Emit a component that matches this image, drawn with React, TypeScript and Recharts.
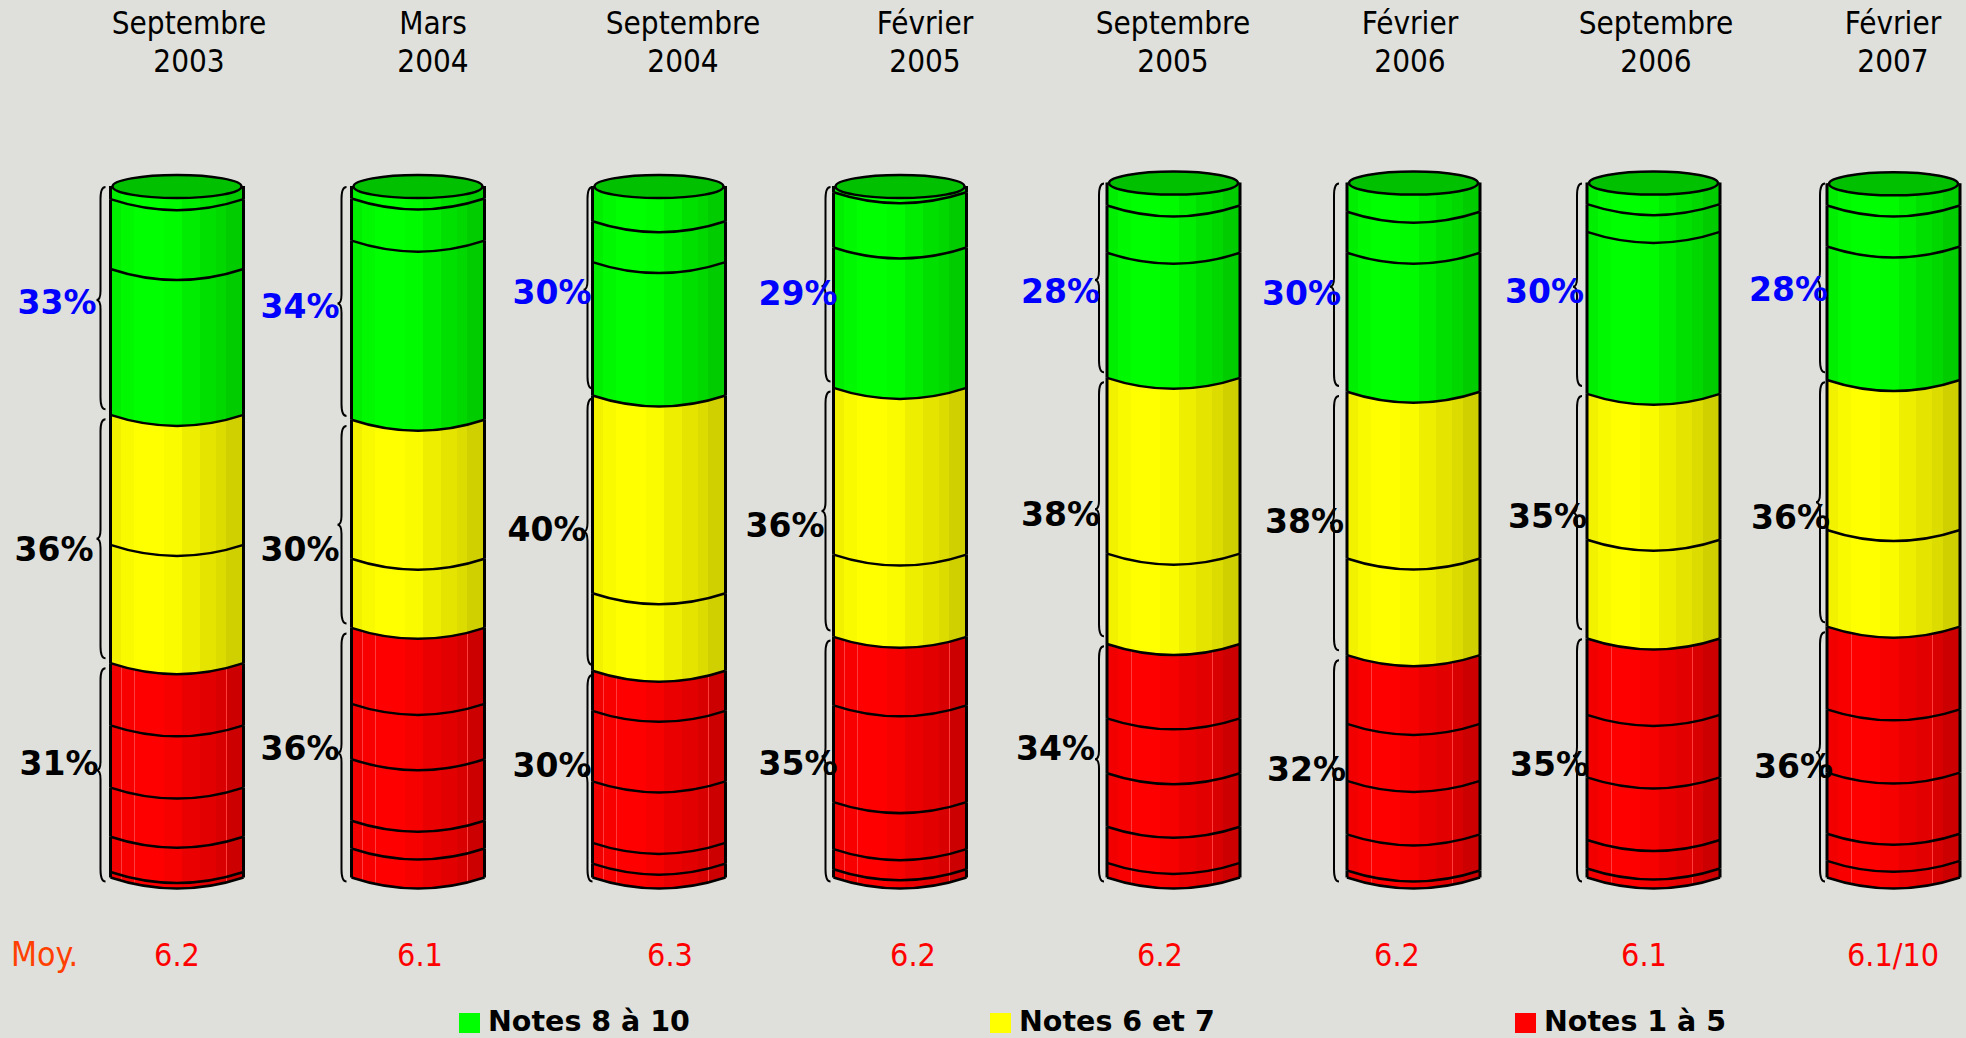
import { Bar, BarChart, XAxis, YAxis } from 'recharts';

const months = ['Septembre', 'Mars', 'Septembre', 'Février', 'Septembre', 'Février', 'Septembre', 'Février'];
const years = ['2003', '2004', '2004', '2005', '2005', '2006', '2006', '2007'];
const moyennes = ['6.2', '6.1', '6.3', '6.2', '6.2', '6.2', '6.1', '6.1/10'];

// share of answers per note
const note10 = [1.9, 1.8, 5.1, 0.9, 3.3, 4.2, 3.1, 3.2];
const note9 = [10.1, 6.1, 5.9, 8, 6.8, 5.9, 4, 5.9];
const note8 = [21.1, 25.9, 19.3, 20.3, 18, 20, 23.3, 19.2];
const note7 = [18.8, 20.1, 28.6, 24.1, 25.3, 24, 21, 21.6];
const note6 = [17.1, 10, 11.2, 11.9, 13, 13.9, 14.2, 13.9];
const note5 = [9, 11, 5.8, 9.9, 10.7, 9.9, 11, 11.9];
const note4 = [9, 8, 10.2, 14, 7.9, 8.2, 9, 9.1];
const note3 = [7.1, 8.9, 8.9, 6.8, 7.7, 7.7, 9, 8.8];
const note2 = [5.1, 4, 3, 2.9, 5.2, 5.2, 4.1, 3.9];
const note1 = [0.8, 4.2, 2, 1.2, 2.1, 1, 1.3, 2.4];

// printed group totals
const groupHaut = [33, 34, 30, 29, 28, 30, 30, 28];
const groupMilieu = [36, 30, 40, 36, 38, 38, 35, 36];
const groupBas = [31, 36, 30, 35, 34, 32, 35, 36];

const legendItems = [
  { label: 'Notes 8 à 10', color: '#00ff00' },
  { label: 'Notes 6 et 7', color: '#ffff00' },
  { label: 'Notes 1 à 5', color: '#ff0000' },
];

// the labels were placed by hand in the original, so each one has its own nudge
const dateNudge = [12, 15, 24, 25, 0, -3, 3, 0];
const moyNudge = [0, 2, 11, 13, -13, -16, -9, 0];
const braceGap = [10, 10, 5, 8, 8, 13, 10, 7];
const hautNudge = [[-14, 1.5], [-12, 2], [-1, 2], [4, 6.5], [-7, 11], [-6, 6.5], [-3, 4], [1, 9]];
const milieuNudge = [[-17, 10], [-12, 24.5], [-6, -2.5], [-9, 14], [-7, 5], [-3, -2], [0, 3], [3, 15]];
const basNudge = [[-12, -7], [-12, -5.5], [-1, -9], [4, 7], [-12, -11], [-1, 3], [2, 8], [6, 14]];

const allRows = months.map((m, i) => ({
  date: `${m} ${years[i]}`,
  moy: moyennes[i],
  n1: note1[i], n2: note2[i], n3: note3[i], n4: note4[i], n5: note5[i],
  n6: note6[i], n7: note7[i], n8: note8[i], n9: note9[i], n10: note10[i],
  bas: groupBas[i], milieu: groupMilieu[i], haut: groupHaut[i],
}));

const BAR_WIDTH = 133;
const CURVE = 11;
const BG = '#dfe0db';
const CONDENSED = '"DejaVu Sans Condensed", "DejaVu Sans", sans-serif';
const BOLD = '"DejaVu Sans", sans-serif';

// facets of the cylinder, left to right
const facets = [0, 0.08, 0.18, 0.4, 0.54, 0.67, 0.79, 0.87, 1];
const facetColors = {
  vert: ['#00ee00', '#00f800', '#00ff00', '#00fa00', '#00ec00', '#00e000', '#00d800', '#00cc00'],
  jaune: ['#f2f200', '#f9f900', '#ffff00', '#fbfb00', '#eeee00', '#e4e400', '#dcdc00', '#d0d000'],
  rouge: ['#f20000', '#f90000', '#ff0000', '#f60000', '#ea0000', '#e20000', '#d80000', '#cc0000'],
};

function Facets({ id, colors, streak }: { id: string; colors: string[]; streak?: string }) {
  const stops: any[] = [];
  colors.forEach((c, i) => {
    stops.push(<stop key={`${i}a`} offset={facets[i]} stopColor={c} />);
    stops.push(<stop key={`${i}b`} offset={facets[i + 1]} stopColor={c} />);
    // the red parts of the original show thin pale lines on some facet edges
    if (streak && [0, 1, 5, 6].includes(i)) {
      stops.push(<stop key={`${i}c`} offset={facets[i + 1]} stopColor={streak} />);
      stops.push(<stop key={`${i}d`} offset={facets[i + 1] + 0.005} stopColor={streak} />);
    }
  });
  return <linearGradient id={id} x1="0" y1="0" x2="1" y2="0">{stops}</linearGradient>;
}

function segment(fillId: string, isTop = false) {
  return (props: any) => {
    const { x, y, width: w, height: h } = props;
    const bottom = y + h;
    return (
      <g>
        <path
          d={`M${x},${y} L${x},${bottom} Q${x + w / 2},${bottom + 2 * CURVE} ${x + w},${bottom} L${x + w},${y} Z`}
          fill={`url(#${fillId})`}
        />
        <path
          d={`M${x},${bottom} Q${x + w / 2},${bottom + 2 * CURVE} ${x + w},${bottom}`}
          fill="none"
          stroke="#000"
          strokeWidth={2.5}
        />
        <path d={`M${x},${y} L${x},${bottom} M${x + w},${y} L${x + w},${bottom}`} stroke="#000" strokeWidth={3} />
        {isTop && (
          <path
            d={`M${x + 2},${y + 0.5} A${w / 2 - 2},11.5 0 0 1 ${x + w - 2},${y + 0.5} A${w / 2 - 2},11.5 0 0 1 ${x + 2},${y + 0.5} Z`}
            fill="#00c000"
            stroke="#000"
            strokeWidth={2.5}
          />
        )}
      </g>
    );
  };
}

function brace(nudges: number[][], color: string, first: number, pad: [number, number]) {
  return (props: any) => {
    const { x, y, height: h, value, index } = props;
    const i = index + first;
    const sx = x - braceGap[i];
    const top = y + pad[0];
    const bot = y + h + pad[1];
    const mid = y + h / 2;
    const [dx, dy] = nudges[i];
    const pct = Array.isArray(value) ? value[1] - value[0] : value;
    return (
      <g>
        <path
          d={`M${sx + 5},${top} Q${sx},${top} ${sx},${top + 12} L${sx},${mid - 9} Q${sx},${mid} ${sx - 4},${mid} Q${sx},${mid} ${sx},${mid + 9} L${sx},${bot - 12} Q${sx},${bot} ${sx + 5},${bot}`}
          fill="none"
          stroke="#000"
          strokeWidth={2}
        />
        <text x={x + dx} y={mid + dy + 12} textAnchor="end" fontFamily={BOLD} fontWeight="bold" fontSize={33} fill={color}>
          {pct}%
        </text>
      </g>
    );
  };
}

function dateTick(first: number) {
  return (props: any) => {
    const { x, index } = props;
    const i = index + first;
    return (
      <text x={x + dateNudge[i]} textAnchor="middle" fontFamily={CONDENSED} fontSize={31.2} fill="#000">
        <tspan x={x + dateNudge[i]} y={34}>{months[i]}</tspan>
        <tspan x={x + dateNudge[i]} y={72}>{years[i]}</tspan>
      </text>
    );
  };
}

function moyTick(first: number) {
  return (props: any) => {
    const { x, index } = props;
    const i = index + first;
    return (
      <text x={x + moyNudge[i]} y={966} textAnchor="middle" fontFamily={CONDENSED} fontSize={32} fill="#ff0000">
        {moyennes[i]}
      </text>
    );
  };
}

function Cylinders({ rows, first, width, left, right, topAxis }: any) {
  return (
    <BarChart
      width={width}
      height={1038}
      data={rows}
      barSize={BAR_WIDTH}
      margin={{ top: 0, right, bottom: 0, left }}
      style={{ position: 'absolute', left: first === 0 ? 0 : 1000, top: 0 }}
    >
      <defs>
        <Facets id="vert" colors={facetColors.vert} />
        <Facets id="jaune" colors={facetColors.jaune} />
        <Facets id="rouge" colors={facetColors.rouge} streak="#ff3c3c" />
      </defs>
      <XAxis xAxisId="date" dataKey="date" orientation="top" height={topAxis} axisLine={false} tickLine={false} interval={0} tick={dateTick(first)} />
      <XAxis xAxisId="moy" dataKey="moy" orientation="bottom" height={160.5} axisLine={false} tickLine={false} interval={0} tick={moyTick(first)} />
      <YAxis hide domain={[0, 100]} />
      <Bar xAxisId="date" dataKey="n1" stackId="notes" isAnimationActive={false} shape={segment('rouge')} />
      <Bar xAxisId="date" dataKey="n2" stackId="notes" isAnimationActive={false} shape={segment('rouge')} />
      <Bar xAxisId="date" dataKey="n3" stackId="notes" isAnimationActive={false} shape={segment('rouge')} />
      <Bar xAxisId="date" dataKey="n4" stackId="notes" isAnimationActive={false} shape={segment('rouge')} />
      <Bar xAxisId="date" dataKey="n5" stackId="notes" isAnimationActive={false} shape={segment('rouge')} />
      <Bar xAxisId="date" dataKey="n6" stackId="notes" isAnimationActive={false} shape={segment('jaune')} />
      <Bar xAxisId="date" dataKey="n7" stackId="notes" isAnimationActive={false} shape={segment('jaune')} />
      <Bar xAxisId="date" dataKey="n8" stackId="notes" isAnimationActive={false} shape={segment('vert')} />
      <Bar xAxisId="date" dataKey="n9" stackId="notes" isAnimationActive={false} shape={segment('vert')} />
      <Bar xAxisId="date" dataKey="n10" stackId="notes" isAnimationActive={false} shape={segment('vert', true)} />
      <Bar xAxisId="moy" dataKey="bas" stackId="groupes" isAnimationActive={false} shape={brace(basNudge, '#000', first, [5, 4])} />
      <Bar xAxisId="moy" dataKey="milieu" stackId="groupes" isAnimationActive={false} shape={brace(milieuNudge, '#000', first, [5, -5])} />
      <Bar xAxisId="moy" dataKey="haut" stackId="groupes" isAnimationActive={false} shape={brace(hautNudge, '#0000ff', first, [1, -5])} />
    </BarChart>
  );
}

const legendX = [459, 990, 1515];

export default function App() {
  return (
    <div style={{ position: 'absolute', left: 0, top: 0, width: 1966, height: 1038, overflow: 'hidden', background: BG }}>
      <Cylinders rows={allRows.slice(0, 4)} first={0} width={1077} left={56.5} right={56.5} topAxis={186} />
      <Cylinders rows={allRows.slice(4)} first={4} width={1013} left={53} right={0} topAxis={182.6} />
      <svg width={1966} height={1038} style={{ position: 'absolute', left: 0, top: 0, pointerEvents: 'none' }}>
        <text x={11} y={966} fontFamily={CONDENSED} fontSize={33.5} fill="#ff4000">Moy.</text>
        {legendItems.map((item, i) => (
          <g key={item.label}>
            <rect x={legendX[i]} y={1013} width={21} height={20} fill={item.color} />
            <text x={legendX[i] + 29} y={1031} fontFamily={BOLD} fontWeight="bold" fontSize={28.5} fill="#000">{item.label}</text>
          </g>
        ))}
      </svg>
    </div>
  );
}
